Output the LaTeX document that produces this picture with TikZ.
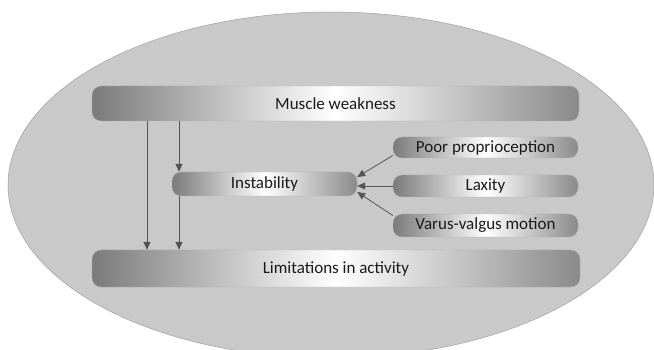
\documentclass[tikz,border=0pt]{standalone}
\usepackage{fontspec}
\setmainfont{Carlito}
\usetikzlibrary{arrows.meta,calc}
\definecolor{ellfill}{HTML}{C9C9C9}
\definecolor{ellline}{HTML}{A0A0A0}
\definecolor{arrcol}{HTML}{555555}
\definecolor{txtcol}{HTML}{1A1A1A}
\tikzset{
  box/.style={draw=black!30, line width=0.4pt, rounded corners=9pt,
    left color=black!52, right color=black!46, middle color=white,
    font=\fontsize{17}{19}\selectfont, text=txtcol, inner sep=0pt},
  arr/.style={draw=arrcol, line width=0.8pt, -{Triangle[length=8pt,width=7pt]}}
}
\begin{document}
\begin{tikzpicture}[x=1pt,y=-1pt]
\useasboundingbox (0,0) rectangle (654,350);
\fill[fill=white] (0,0) rectangle (654,350);
\draw[fill=ellfill, draw=ellline, line width=0.5pt] (331,185) ellipse [x radius=323, y radius=173];
\node[box, minimum width=487pt, minimum height=35pt] (mw) at (335.5,103.5) {Muscle weakness};
\node[box, minimum width=185pt, minimum height=24pt] (inst) at (264.5,184) {Instability};
\node[box, minimum width=185pt, minimum height=21pt] (poor) at (485.5,147.5) {Poor proprioception};
\node[box, minimum width=185pt, minimum height=22pt] (lax) at (485.5,186) {Laxity};
\node[box, minimum width=185pt, minimum height=23pt] (var) at (485.5,225.5) {Varus-valgus motion};
\node[box, minimum width=488pt, minimum height=37pt] (lim) at (336,268.5) {Limitations in activity};
\draw[arr] (mw.south -| 147,0) -- (lim.north -| 147,0);
\draw[arr] (mw.south -| 179,0) -- (inst.north -| 179,0);
\draw[arr] (inst.south -| 179,0) -- (lim.north -| 179,0);
\draw[arr] ([yshift=-8pt]poor.west) -- ([yshift=7pt]inst.east);
\draw[arr] (lax.west) -- (lax.west -| inst.east);
\draw[arr] ([yshift=10pt]var.west) -- ([yshift=-8pt]inst.east);
\end{tikzpicture}
\end{document}
